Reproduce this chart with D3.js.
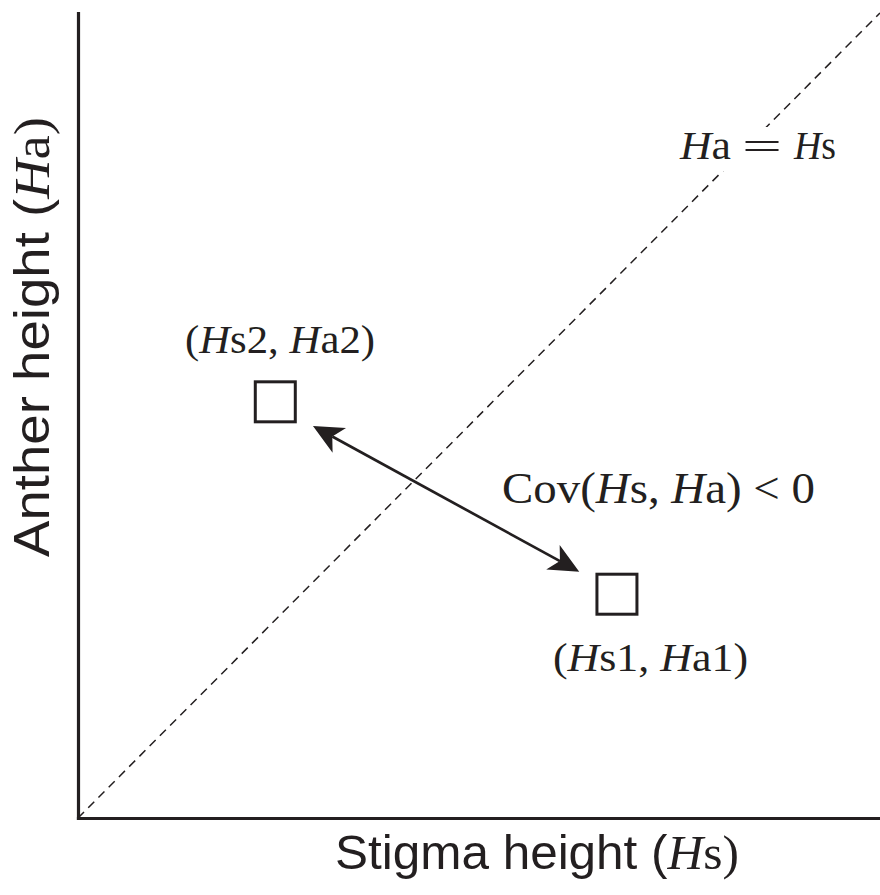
<!DOCTYPE html>
<html>
<head>
<meta charset="utf-8">
<script src="https://cdn.jsdelivr.net/npm/d3@7"></script>
<style>
  html, body { margin: 0; padding: 0; background: #fff; }
  svg { display: block; }
</style>
</head>
<body>
<script>
// ---- data ----
const xDomain = [0, 10];
const yDomain = [0, 10];
const pointNames = ["1", "2"];
const stigmaHeights = [6.72, 2.46];   // Hs
const antherHeights = [2.78, 5.17];   // Ha
const diagonalLine = [[0, 0], [10, 10]];   // Ha = Hs
const arrowStart = [2.93, 4.87];
const arrowEnd = [6.25, 3.06];
const xAxisTitle = ["Stigma height (", "H", "s)"];
const yAxisTitle = ["Anther height (", "H", "a)"];
const diagLabelLeft = ["H", "a"];
const diagLabelEq = "=";
const diagLabelRight = ["H", "s"];
const covLabel = ["Cov(", "H", "s, ", "H", "a) < 0"];

const W = 880, H = 895;
const ink = "#231f20";
const serif = "Liberation Serif, Times New Roman, serif";
const sans = "Liberation Sans, Arial, Helvetica, sans-serif";
const svg = d3.select("body").append("svg").attr("width", W).attr("height", H);

const x = d3.scaleLinear().domain(xDomain).range([78, 880]);
const y = d3.scaleLinear().domain(yDomain).range([818, 13]);

// diagonal dashed line
svg.append("path")
  .attr("d", d3.line().x(d => x(d[0])).y(d => y(d[1]))(diagonalLine))
  .attr("fill", "none").attr("stroke", ink).attr("stroke-width", 1.5)
  .attr("stroke-dasharray", "8.5,6");

// axes (no ticks)
const gx = svg.append("g").attr("transform", `translate(0,${y(0)})`)
  .call(d3.axisBottom(x).tickValues([]).tickSizeOuter(0));
const gy = svg.append("g").attr("transform", `translate(${x(0)},0)`)
  .call(d3.axisLeft(y).tickValues([]).tickSizeOuter(0));
[gx, gy].forEach(g => g.select(".domain").attr("stroke", ink).attr("stroke-width", 3.2)
  .attr("stroke-linecap", "square"));

// arrow
const p0 = [x(arrowStart[0]), y(arrowStart[1])];
const p1 = [x(arrowEnd[0]), y(arrowEnd[1])];
const ang = Math.atan2(p1[1] - p0[1], p1[0] - p0[0]);
const headLen = 30, headHalf = 14, notch = 22;
function head(tip, a) {
  const ux = Math.cos(a), uy = Math.sin(a);
  const bx = tip[0] - ux * headLen, by = tip[1] - uy * headLen;
  const nx = tip[0] - ux * notch, ny = tip[1] - uy * notch;
  return `M${tip[0]},${tip[1]}L${bx - uy * headHalf},${by + ux * headHalf}L${nx},${ny}L${bx + uy * headHalf},${by - ux * headHalf}Z`;
}
const shaftStart = [p0[0] + Math.cos(ang) * notch, p0[1] + Math.sin(ang) * notch];
const shaftEnd = [p1[0] - Math.cos(ang) * notch, p1[1] - Math.sin(ang) * notch];
svg.append("line")
  .attr("x1", shaftStart[0]).attr("y1", shaftStart[1])
  .attr("x2", shaftEnd[0]).attr("y2", shaftEnd[1])
  .attr("stroke", ink).attr("stroke-width", 2.7);
svg.append("path").attr("d", head(p1, ang)).attr("fill", ink);
svg.append("path").attr("d", head(p0, ang + Math.PI)).attr("fill", ink);

// squares
const pts = pointNames.map((n, i) => ({ n, hs: stigmaHeights[i], ha: antherHeights[i] }));
const side = 40;
svg.selectAll("rect.pt").data(pts).enter().append("rect")
  .attr("class", "pt")
  .attr("x", d => x(d.hs) - side / 2).attr("y", d => y(d.ha) - side / 2)
  .attr("width", side).attr("height", side)
  .attr("fill", "#fff").attr("stroke", ink).attr("stroke-width", 3);

// helper for mixed-style text
function richText(parent, parts, italicIdx, opts) {
  const t = parent.append("text")
    .attr("x", opts.x).attr("y", opts.y)
    .attr("font-family", opts.family)
    .attr("font-size", opts.size)
    .attr("fill", ink);
  if (opts.transform) t.attr("transform", opts.transform);
  parts.forEach((p, i) => {
    const ts = t.append("tspan").text(p);
    if (italicIdx.includes(i)) ts.attr("font-style", "italic").attr("font-family", serif);
    else if (opts.partFamily) ts.attr("font-family", opts.partFamily(i));
  });
  if (opts.len) t.attr("textLength", opts.len).attr("lengthAdjust", "spacingAndGlyphs");
  return t;
}

// point labels
const labelPos = { "2": { x: 185, y: 353, len: 190 }, "1": { x: 553, y: 671, len: 195 } };
pts.forEach(d => {
  const lp = labelPos[d.n];
  richText(svg, ["(", "H", "s" + d.n + ", ", "H", "a" + d.n + ")"], [1, 3],
    { x: lp.x, y: lp.y, size: 40, family: serif, len: lp.len });
});

// Ha = Hs label on a white knock-out
const dg = svg.append("g");
dg.append("rect").attr("x", 676).attr("y", 127).attr("width", 166).attr("height", 44).attr("fill", "#fff");
richText(dg, diagLabelLeft, [0], { x: 680, y: 159, size: 39, family: serif, len: 51 });
dg.append("text").text(diagLabelEq)
  .attr("font-family", serif).attr("font-size", 38).attr("fill", ink)
  .attr("x", 0).attr("y", 0)
  .attr("textLength", 40).attr("lengthAdjust", "spacingAndGlyphs")
  .attr("transform", "translate(742,159)");
richText(dg, diagLabelRight, [0], { x: 794, y: 159, size: 39, family: serif, len: 42 });

richText(svg, covLabel, [1, 3], { x: 502, y: 503, size: 45, family: serif, len: 313 });

// axis titles
richText(svg, xAxisTitle, [1], { x: 335, y: 869, size: 48, family: sans, len: 404,
  partFamily: i => i === 2 ? serif : sans });
richText(svg, yAxisTitle, [1], { x: 0, y: 0, size: 50, family: sans, len: 440,
  transform: "translate(49,557) rotate(-90)",
  partFamily: i => i === 2 ? serif : sans });
</script>
</body>
</html>
